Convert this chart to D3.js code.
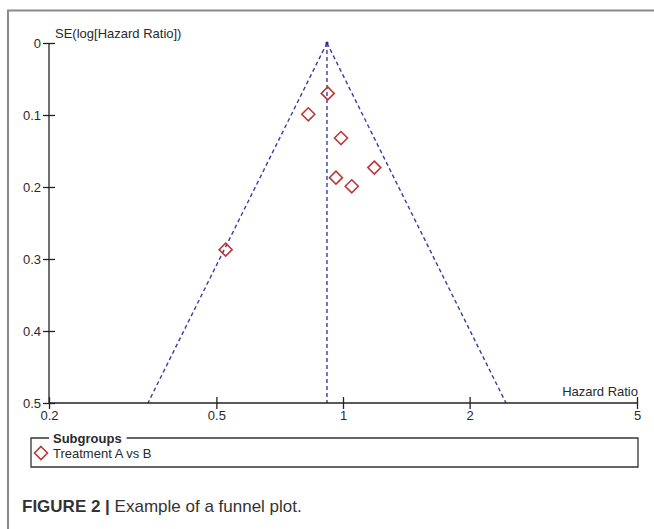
<!DOCTYPE html>
<html>
<head>
<meta charset="utf-8">
<title>funnel plot</title>
<script src="https://cdn.jsdelivr.net/npm/d3@7"></script>
<style>
	body { margin: 0; background: #fff; }
	svg text { font-family: "Liberation Sans", Arial, sans-serif; fill: #2a2a2a; }
	.axis path, .axis line { stroke: #222; stroke-width: 1.3; fill: none; }
	.axis text { font-size: 13px; }
</style>
</head>
<body>
<script>
	// data
	var hazardRatio = [0.920, 0.827, 0.989, 1.187, 0.962, 1.049, 0.526];
	var seLogHR = [0.070, 0.099, 0.132, 0.173, 0.187, 0.199, 0.287];
	var pooledHR = 0.916;
	var xTicks = [0.2, 0.5, 1, 2, 5];
	var yTicks = [0, 0.1, 0.2, 0.3, 0.4, 0.5];
	var seriesName = "Treatment A vs B";

	var width = 654, height = 529;
	var plot = {left: 49, right: 637, top: 43, bottom: 403};

	var svg = d3.select("body").append("svg")
		.attr("width", width)
		.attr("height", height);

	// outer frame (only top and left edges visible)
	svg.append("path")
		.attr("d", "M8,529 V10.5 H654")
		.attr("fill", "none")
		.attr("stroke", "#8a8a8a")
		.attr("stroke-width", 2);

	var x = d3.scaleLog().domain([0.2, 5]).range([plot.left, plot.right]);
	var y = d3.scaleLinear().domain([0, 0.5]).range([plot.top, plot.bottom]);

	// funnel
	var z = 1.96;
	var seMax = 0.5;
	var funnel = svg.append("g")
		.attr("fill", "none")
		.attr("stroke", "#3a3aa8")
		.attr("stroke-width", 1.4)
		.attr("stroke-dasharray", "4,3");
	var left = Math.exp(Math.log(pooledHR) - z * seMax);
	var right = Math.exp(Math.log(pooledHR) + z * seMax);
	funnel.append("line")
		.attr("x1", x(pooledHR)).attr("y1", y(0))
		.attr("x2", x(left)).attr("y2", y(seMax));
	funnel.append("line")
		.attr("x1", x(pooledHR)).attr("y1", y(0))
		.attr("x2", x(right)).attr("y2", y(seMax));
	funnel.append("line")
		.attr("x1", x(pooledHR)).attr("y1", y(0))
		.attr("x2", x(pooledHR)).attr("y2", y(seMax));
	svg.append("circle")
		.attr("cx", x(pooledHR)).attr("cy", y(0))
		.attr("r", 1.6).attr("fill", "#2a2a9a");

	// axes
	var xAxis = d3.axisBottom(x).tickValues(xTicks).tickSize(0).tickPadding(8)
		.tickFormat(function(d){ return String(d); });
	var gx = svg.append("g")
		.attr("class", "axis")
		.attr("transform", "translate(0," + plot.bottom + ")")
		.call(xAxis);
	gx.select(".domain").attr("d", "M" + plot.left + ",0H" + plot.right);
	gx.selectAll(".tick line").attr("y1", -6).attr("y2", 6);

	var yAxis = d3.axisLeft(y).tickValues(yTicks).tickSize(0).tickPadding(8)
		.tickFormat(function(d){ return String(d); });
	var gy = svg.append("g")
		.attr("class", "axis")
		.attr("transform", "translate(" + plot.left + ",0)")
		.call(yAxis);
	gy.select(".domain").attr("d", "M0," + plot.top + "V" + plot.bottom);
	gy.selectAll(".tick line").attr("x1", -6).attr("x2", 6);
	gy.selectAll(".tick text").attr("dy", "0.32em");

	svg.append("text")
		.attr("x", plot.left + 6).attr("y", plot.top - 5)
		.attr("font-size", 13)
		.text("SE(log[Hazard Ratio])");
	svg.append("text")
		.attr("x", plot.right + 1).attr("y", plot.bottom - 7)
		.attr("text-anchor", "end")
		.attr("font-size", 13)
		.text("Hazard Ratio");

	// points
	var diamond = function(cx, cy, r){
		return "M" + cx + "," + (cy - r) + "L" + (cx + r) + "," + cy +
			"L" + cx + "," + (cy + r) + "L" + (cx - r) + "," + cy + "Z";
	};
	svg.selectAll(".pt")
		.data(hazardRatio)
		.enter()
		.append("path")
		.attr("class", "pt")
		.attr("d", function(d, i){ return diamond(x(d), y(seLogHR[i]), 6.5); })
		.attr("fill", "none")
		.attr("stroke", "#b83a3a")
		.attr("stroke-width", 1.6);

	// legend
	var lg = {x: 31, y: 438, w: 607, h: 29};
	var title = svg.append("text")
		.attr("x", lg.x + 22).attr("y", lg.y + 4.5)
		.attr("font-size", 13).attr("font-weight", "bold")
		.text("Subgroups");
	var gapEnd = lg.x + 22 + title.node().getComputedTextLength() + 5;
	svg.append("path")
		.attr("d", "M" + (lg.x + 18) + "," + lg.y + "H" + lg.x + "V" + (lg.y + lg.h) +
			"H" + (lg.x + lg.w) + "V" + lg.y + "H" + gapEnd)
		.attr("fill", "none")
		.attr("stroke", "#333")
		.attr("stroke-width", 1.3);
	svg.append("path")
		.attr("d", diamond(lg.x + 10, lg.y + 15, 6.5))
		.attr("fill", "none")
		.attr("stroke", "#b83a3a")
		.attr("stroke-width", 1.6);
	svg.append("text")
		.attr("x", lg.x + 22).attr("y", lg.y + 19.5)
		.attr("font-size", 13)
		.text(seriesName);

	// caption
	var cap = svg.append("text")
		.attr("x", 22).attr("y", 512)
		.attr("font-size", 17)
		.style("fill", "#333");
	cap.append("tspan").attr("font-weight", "bold").text("FIGURE 2 |");
	cap.append("tspan").text(" Example of a funnel plot.");
</script>
</body>
</html>
